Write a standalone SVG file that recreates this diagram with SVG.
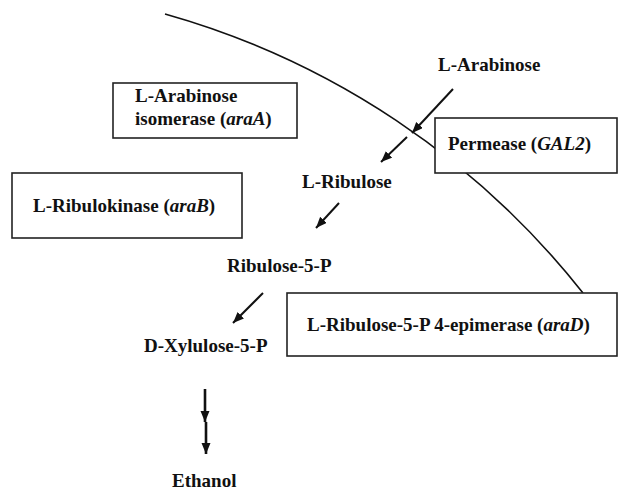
<svg xmlns="http://www.w3.org/2000/svg" width="618" height="492" viewBox="0 0 618 492">
<style>
  text { font-family: "Liberation Serif", "Times New Roman", serif; font-weight: bold; font-size: 19px; fill: #111; }
  .i { font-style: italic; }
  .box { fill: #fff; stroke: #222; stroke-width: 1.6; }
  .arr { stroke: #111; stroke-width: 2; fill: none; }
  .arrv { stroke: #111; stroke-width: 2.6; fill: none; }
  .membrane { fill: none; stroke: #111; stroke-width: 1.6; }
</style>
<defs>
  <marker id="ah" markerUnits="userSpaceOnUse" markerWidth="12" markerHeight="10" refX="11" refY="4.5" orient="auto">
    <path d="M0,0 L11,4.5 L0,9 z" fill="#111"/>
  </marker>
</defs>
<rect width="618" height="492" fill="#fff"/>
<g id="membrane">
  <path class="membrane" d="M165,14 A813,813 0 0 1 583,293"/>
</g>
<g id="connectors">
  <line class="arr" x1="453" y1="89" x2="412" y2="133" marker-end="url(#ah)"/>
  <line class="arr" x1="407" y1="137" x2="381" y2="162" marker-end="url(#ah)"/>
  <line class="arr" x1="339" y1="203" x2="316" y2="228" marker-end="url(#ah)"/>
  <line class="arr" x1="263" y1="293" x2="233" y2="323" marker-end="url(#ah)"/>
  <line class="arrv" x1="205" y1="389" x2="205" y2="422" marker-end="url(#ah)"/>
  <line class="arrv" x1="206" y1="422" x2="206" y2="454" marker-end="url(#ah)"/>
</g>
<g id="isomerase">
  <rect class="box" x="113" y="83" width="184" height="55"/>
  <text x="135" y="102">L-Arabinose</text>
  <text x="135" y="125">isomerase (<tspan class="i">araA</tspan>)</text>
</g>
<g id="permease">
  <rect class="box" x="435" y="118" width="182" height="55"/>
  <text x="448" y="150">Permease (<tspan class="i">GAL2</tspan>)</text>
</g>
<g id="ribulokinase">
  <rect class="box" x="12" y="173" width="230" height="65"/>
  <text x="33" y="212">L-Ribulokinase (<tspan class="i">araB</tspan>)</text>
</g>
<g id="epimerase">
  <rect class="box" x="287" y="293" width="330" height="63"/>
  <text x="307" y="331">L-Ribulose-5-P 4-epimerase (<tspan class="i">araD</tspan>)</text>
</g>
<g id="l-arabinose"><text x="438" y="71">L-Arabinose</text></g>
<g id="l-ribulose"><text x="302" y="188">L-Ribulose</text></g>
<g id="ribulose-5-p"><text x="227" y="272">Ribulose-5-P</text></g>
<g id="d-xylulose-5-p"><text x="144" y="352">D-Xylulose-5-P</text></g>
<g id="ethanol"><text x="172" y="487">Ethanol</text></g>
</svg>
